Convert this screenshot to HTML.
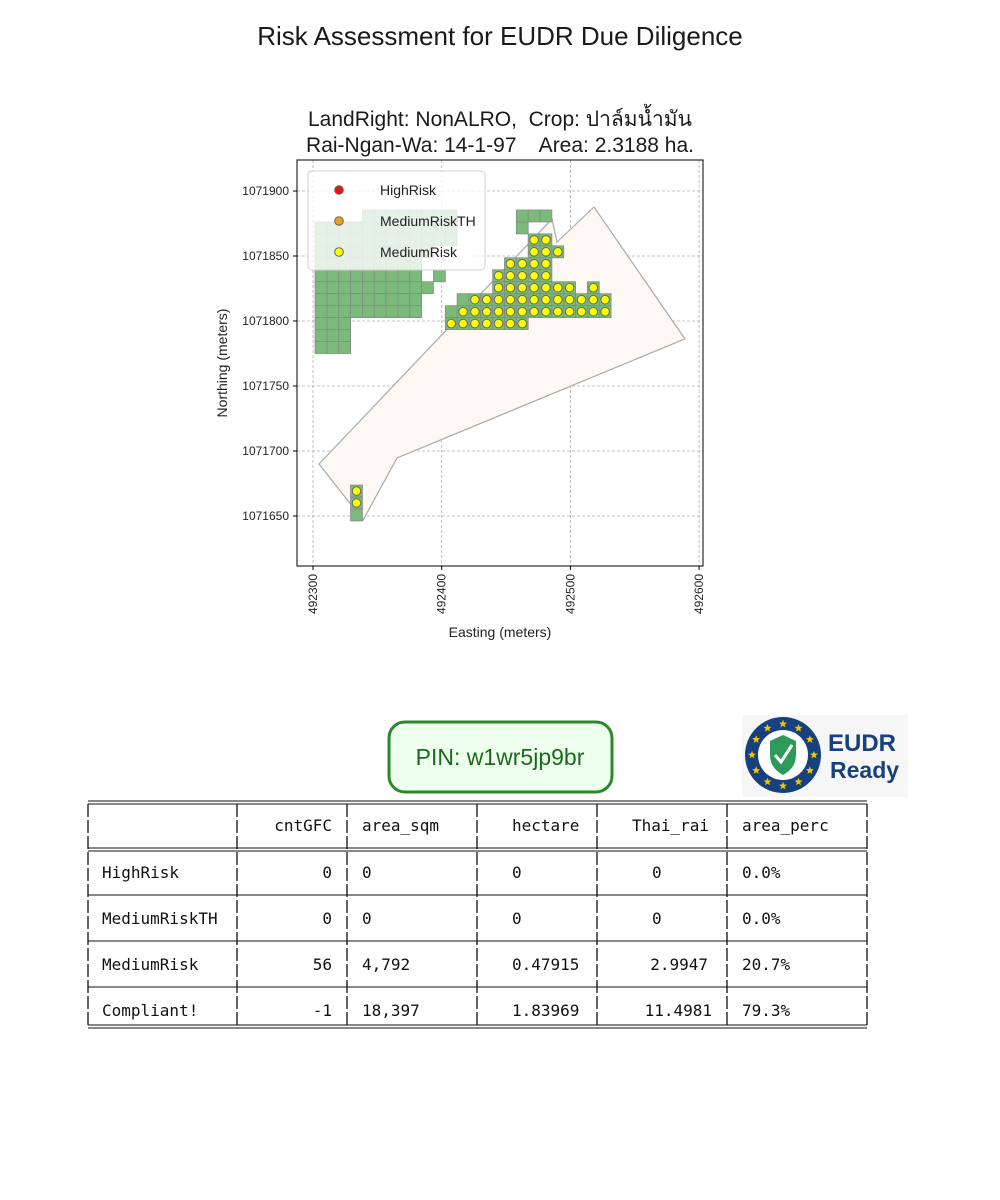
<!DOCTYPE html>
<html><head><meta charset="utf-8"><style>
html,body{margin:0;padding:0;background:#fff;width:1000px;height:1200px;overflow:hidden}
svg{position:absolute;left:0;top:0}
text{white-space:pre}
</style></head><body>
<svg id="fig" width="1000" height="1200" viewBox="0 0 1000 1200" xmlns="http://www.w3.org/2000/svg" font-family="'Liberation Sans','Noto Sans CJK SC',sans-serif">
<text x="500" y="45" text-anchor="middle" font-size="26" fill="#1a1a1a">Risk Assessment for EUDR Due Diligence</text>
<text x="500" y="126" text-anchor="middle" font-size="21" fill="#1a1a1a" xml:space="preserve">LandRight: NonALRO,  Crop: ปาล์มน้ำมัน</text>
<text x="500" y="152" text-anchor="middle" font-size="21" fill="#1a1a1a" xml:space="preserve">Rai-Ngan-Wa: 14-1-97    Area: 2.3188 ha.</text>
<g id="plot"></g>

<g>
<rect x="389" y="722" width="223" height="70" rx="16" fill="#efffef" stroke="#2a8a2a" stroke-width="3"/>
<text x="500" y="765" text-anchor="middle" font-size="23" fill="#1a6a1a">PIN: w1wr5jp9br</text>
</g>

<g>
<rect x="742" y="715" width="166" height="82" fill="#f6f6f6"/>
<circle cx="783" cy="755" r="38" fill="#16407e"/>
<circle cx="783" cy="755" r="25" fill="#fff"/>
<g id="stars" fill="#f5c400"></g>
<path d="M770 741 L783 735 L796 741 L796 755 Q796 768 783 775 Q770 768 770 755 Z" fill="#2e9a5a"/>
<path d="M775 755 L781 762 L792 745" fill="none" stroke="#fff" stroke-width="3"/>
<text x="828" y="751" font-size="24" font-weight="bold" fill="#16407e">EUDR</text>
<text x="830" y="778" font-size="23" font-weight="bold" fill="#16407e">Ready</text>
</g>

<g id="table" font-family="'DejaVu Sans Mono','Liberation Mono',monospace" font-size="16" fill="#111"></g>
</svg>
<script>
// ---- chart data ----
const xTicks = [492300, 492400, 492500, 492600];
const yTicks = [1071650, 1071700, 1071750, 1071800, 1071850, 1071900];
const polyE = [492304.7, 492338.9, 492365.3, 492589.0, 492518.3, 492489.6, 492485.7];
const polyN = [1071690.0, 1071646.9, 1071694.6, 1071786.2, 1071887.7, 1071860.8, 1071878.5];
const cellRow   = [0,0,1,1,2,2,3,3,4,4,5,5,5,6,6,6,6,7,7,8,8,9,9,10,11,23,24,25];
const cellStart = [4,17,0,17,0,18,0,18,0,16,0,10,15,0,9,15,23,0,12,0,11,0,11,0,0,3,3,3];
const cellEnd   = [11,19,11,17,11,19,9,20,8,19,8,10,19,8,9,21,23,8,24,8,24,2,17,2,2,3,3,3];
const dotRow    = [2,3,4,5,6,6,7,8,9,23,24];
const dotStart  = [18,18,16,15,15,23,13,12,11,3,3];
const dotEnd    = [19,20,19,19,21,23,24,24,17,3,3];
const gridE0 = 492306.2, gridN0 = 1071880.8, gridStep = 9.2;
const legendLabels = ['HighRisk','MediumRiskTH','MediumRisk'];
const legendColors = ['#ee1111','#f0a020','#ffff00'];

const NS='http://www.w3.org/2000/svg';
function mk(parent,tag,attrs){const e=document.createElementNS(NS,tag);for(const k in attrs)e.setAttribute(k,attrs[k]);parent.appendChild(e);return e;}
const AX={l:297,r:703,t:160,b:566};
function sx(e){return 313+(e-492300)*1.287;}
function sy(n){return 191-(n-1071900)*1.3;}
const plot=document.getElementById('plot');

mk(plot,'rect',{x:AX.l,y:AX.t,width:AX.r-AX.l,height:AX.b-AX.t,fill:'#fff'});
xTicks.forEach(v=>{const l=mk(plot,'line',{x1:sx(v),x2:sx(v),y1:AX.t,y2:AX.b,stroke:'#b0b0b0','stroke-width':0.8,'stroke-dasharray':'3,2'});

});
yTicks.forEach(v=>{const l=mk(plot,'line',{x1:AX.l,x2:AX.r,y1:sy(v),y2:sy(v),stroke:'#b0b0b0','stroke-width':0.8,'stroke-dasharray':'3,2'});

});
const pts=polyE.map((e,i)=>sx(e).toFixed(1)+','+sy(polyN[i]).toFixed(1)).join(' ');
const pg=mk(plot,'polygon',{points:pts,fill:'#fdf8f4',stroke:'#aaaaaa','stroke-width':1.2});


const cw=gridStep*1.287, ch=gridStep*1.3;
cellRow.forEach((r,i)=>{for(let c=cellStart[i];c<=cellEnd[i];c++){
 const cx=sx(gridE0+c*gridStep), cy=sy(gridN0-r*gridStep);
 const rc=mk(plot,'rect',{x:cx-cw/2,y:cy-ch/2,width:cw,height:ch,fill:'#7aba7a',stroke:'#888','stroke-width':0.8});
 
 
}});
dotRow.forEach((r,i)=>{for(let c=dotStart[i];c<=dotEnd[i];c++){
 const cx=sx(gridE0+c*gridStep), cy=sy(gridN0-r*gridStep);
 const d=mk(plot,'circle',{cx:cx,cy:cy,r:4.3,fill:'#ffff00',stroke:'#666','stroke-width':1});
 
 
}});
const lg=mk(plot,'g',{});


mk(lg,'rect',{x:308,y:171,width:177,height:99,rx:4,fill:'rgba(255,255,255,0.8)',stroke:'#d0d0d0'});
legendLabels.forEach((lab,i)=>{const y=190+i*31;
 const c=mk(lg,'circle',{cx:339,cy:y,r:4.3,fill:legendColors[i],stroke:'#666','stroke-width':1});
 
 
 const t=mk(lg,'text',{x:380,y:y+5,'font-size':14,fill:'#222'});t.textContent=lab;
 
 
});
mk(plot,'rect',{x:AX.l,y:AX.t,width:AX.r-AX.l,height:AX.b-AX.t,fill:'none',stroke:'#000','stroke-width':1});
xTicks.forEach(v=>{mk(plot,'line',{x1:sx(v),x2:sx(v),y1:AX.b,y2:AX.b+4,stroke:'#000'});
 const t=mk(plot,'text',{x:0,y:0,'font-size':12,fill:'#222','text-anchor':'end',transform:`translate(${sx(v)+4},${AX.b+8}) rotate(-90)`});t.textContent=v;
 
 });
yTicks.forEach(v=>{mk(plot,'line',{x1:AX.l-4,x2:AX.l,y1:sy(v),y2:sy(v),stroke:'#000'});
 const t=mk(plot,'text',{x:AX.l-8,y:sy(v)+4,'font-size':12,fill:'#222','text-anchor':'end'});t.textContent=v;
 
 });
const xt=mk(plot,'text',{x:500,y:637,'font-size':14,fill:'#222','text-anchor':'middle'});xt.textContent='Easting (meters)';


const yt=mk(plot,'text',{x:0,y:0,'font-size':14,fill:'#222','text-anchor':'middle',transform:'translate(227,363) rotate(-90)'});yt.textContent='Northing (meters)';



const st=document.getElementById('stars');
for(let k=0;k<12;k++){const a=k*Math.PI/6;const x=783+31*Math.sin(a),y=755-31*Math.cos(a);
 let p='';for(let j=0;j<10;j++){const rr=j%2?1.8:4.2;const b=j*Math.PI/5;p+=(j?'L':'M')+(x+rr*Math.sin(b)).toFixed(1)+' '+(y-rr*Math.cos(b)).toFixed(1);}
 mk(st,'path',{d:p+'Z'});}

const tb=document.getElementById('table');
const L=88,R=867;
const colX=[237,347,477,597,727];
function hl(y){mk(tb,'line',{x1:L,x2:R,y1:y,y2:y,stroke:'#111','stroke-width':1});}
hl(801);hl(804);hl(848);hl(851);hl(895);hl(941);hl(987);hl(1025);hl(1028);
[L,...colX,R].forEach(x=>{mk(tb,'line',{x1:x,x2:x,y1:804,y2:1025,stroke:'#111','stroke-width':1.3,'stroke-dasharray':'13,3'});});
const rows=[
 [['',102,'start'],['cntGFC',332,'end'],['area_sqm',362,'start'],['hectare',512,'start'],['Thai_rai',632,'start'],['area_perc',742,'start']],
 [['HighRisk',102,'start'],['0',332,'end'],['0',362,'start'],['0',512,'start'],['0',652,'start'],['0.0%',742,'start']],
 [['MediumRiskTH',102,'start'],['0',332,'end'],['0',362,'start'],['0',512,'start'],['0',652,'start'],['0.0%',742,'start']],
 [['MediumRisk',102,'start'],['56',332,'end'],['4,792',362,'start'],['0.47915',512,'start'],['2.9947',708,'end'],['20.7%',742,'start']],
 [['Compliant!',102,'start'],['-1',332,'end'],['18,397',362,'start'],['1.83969',512,'start'],['11.4981',712,'end'],['79.3%',742,'start']]];
const rowY=[831,878,924,970,1016];
rows.forEach((r,i)=>r.forEach(c=>{const t=mk(tb,'text',{x:c[1],y:rowY[i],'text-anchor':c[2]});t.textContent=c[0];
 
 }));
</script>
</body></html>
